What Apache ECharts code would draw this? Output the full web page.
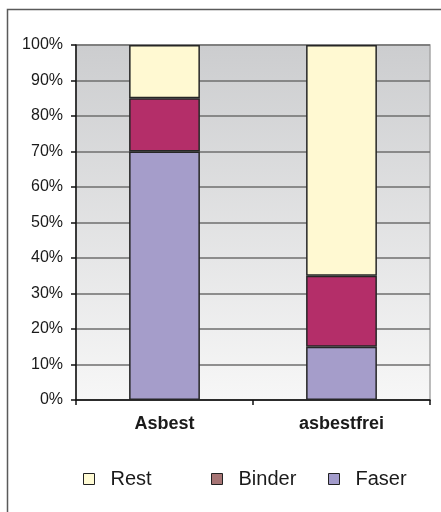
<!DOCTYPE html>
<html>
<head>
<meta charset="utf-8">
<script src="https://cdn.jsdelivr.net/npm/echarts@6/dist/echarts.min.js"></script>
<style>html,body{margin:0;padding:0;background:#fff;}#c{width:441px;height:512px;}</style>
</head>
<body>
<div id="c"></div>
<script>
const categories = ['Asbest', 'asbestfrei'];
const faser = [70, 15];
const binder = [15, 20];
const rest = [15, 65];
const yTicks = [0, 10, 20, 30, 40, 50, 60, 70, 80, 90, 100];

const chart = echarts.init(document.getElementById('c'), null, {renderer: 'canvas'});
const font = '"Liberation Sans", Arial, sans-serif';
const barBorder = {borderColor: '#262626', borderWidth: 1.5};
const legendBase = {
  orient: 'horizontal', top: 469, padding: 0, itemWidth: 11, itemHeight: 11, icon: 'rect',
  textStyle: {fontFamily: font, fontSize: 20, color: '#1a1a1a', padding: [0, 0, 0, 11]},
  selectedMode: false
};
chart.setOption({
  animation: false,
  backgroundColor: '#ffffff',
  graphic: [{
    type: 'rect', z: -10,
    shape: {x: 7.5, y: 9.5, width: 450, height: 520},
    style: {fill: 'none', stroke: '#5a5a5a', lineWidth: 1.5}
  }],
  grid: {
    left: 76, right: 11, top: 45, bottom: 112, show: true,
    borderColor: '#a6a6a6', borderWidth: 1.5,
    backgroundColor: new echarts.graphic.LinearGradient(0, 0, 0, 1, [
      {offset: 0, color: '#cccdcf'},
      {offset: 1, color: '#f7f7f7'}
    ])
  },
  legend: [
    Object.assign({}, legendBase, {left: 83, data: [{name: 'Rest', itemStyle: {color: '#fffbd4', borderColor: '#222', borderWidth: 1}}]}),
    Object.assign({}, legendBase, {left: 211, data: [{name: 'Binder', itemStyle: {color: '#a67474', borderColor: '#222', borderWidth: 1}}]}),
    Object.assign({}, legendBase, {left: 328, data: [{name: 'Faser', itemStyle: {color: '#a29bcb', borderColor: '#222', borderWidth: 1}}]})
  ],
  xAxis: {
    type: 'category', data: categories, boundaryGap: true,
    axisLine: {lineStyle: {color: '#111', width: 1.5}},
    axisTick: {show: true, length: 5, lineStyle: {color: '#111', width: 1.5}},
    axisLabel: {fontFamily: font, fontSize: 18, fontWeight: 'bold', color: '#1a1a1a', margin: 15},
    splitLine: {show: false}
  },
  yAxis: {
    type: 'value', min: 0, max: 100, interval: 10,
    axisLine: {show: true, lineStyle: {color: '#111', width: 1.5}},
    axisTick: {show: true, length: 5, lineStyle: {color: '#111', width: 1.5}},
    axisLabel: {fontFamily: font, fontSize: 16, color: '#1a1a1a', margin: 13,
      formatter: v => yTicks.includes(v) ? v + '%' : ''},
    splitLine: {show: true, lineStyle: {color: '#6e6e6e', width: 1.5}}
  },
  series: [
    {name: 'Faser', type: 'bar', stack: 's', data: faser, barWidth: '40%', itemStyle: Object.assign({color: '#a59dca'}, barBorder)},
    {name: 'Binder', type: 'bar', stack: 's', data: binder, barWidth: '40%', itemStyle: Object.assign({color: '#b42e69'}, barBorder)},
    {name: 'Rest', type: 'bar', stack: 's', data: rest, barWidth: '40%', itemStyle: Object.assign({color: '#fff9d2'}, barBorder)}
  ]
});
</script>
</body>
</html>
